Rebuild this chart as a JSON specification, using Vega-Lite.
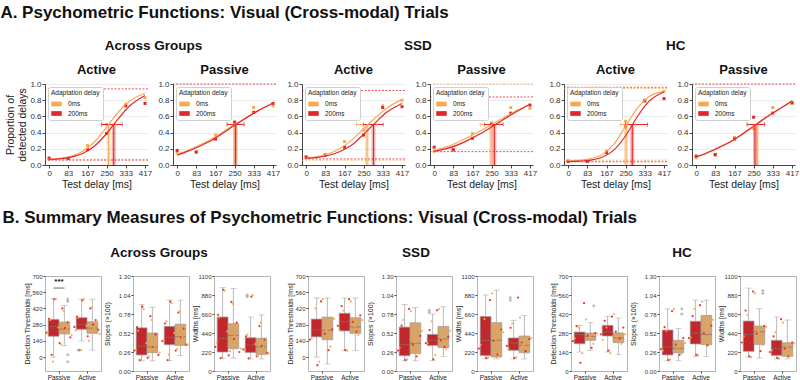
{
"$schema":"https://vega.github.io/schema/vega-lite/v6.json",
"background":"white",
"padding":{"left":0,"top":3,"right":0,"bottom":0},
"config":{
 "font":"Liberation Sans",
 "view":{"stroke":null},
 "title":{"font":"Liberation Sans","fontWeight":"bold","color":"#111","anchor":"middle","frame":"bounds"},
 "axis":{"labelFont":"Liberation Sans","titleFont":"Liberation Sans","titleFontWeight":"normal","labelColor":"#333","titleColor":"#1a1a1a","domainColor":"#444","tickColor":"#444","tickSize":3,"labelPadding":1,"titlePadding":2,"grid":false,"labelOverlap":false,"labelFlush":false},
 "legend":{"orient":"top-left","offset":3,"fillColor":"white","strokeColor":"#cfcfcf","cornerRadius":2,"padding":3,"titleFontSize":6.5,"titleFontWeight":"normal","titleColor":"#222","labelFontSize":6.5,"labelColor":"#222","symbolType":"M-1,-0.45H1V0.45H-1Z","symbolSize":110,"symbolStrokeWidth":0,"rowPadding":0.5,"titlePadding":2,"labelOffset":6}
},
"datasets":{
"pa":[
{"p":"AGA","d":"0ms","x":0,"y":0.074},{"p":"AGA","d":"0ms","x":83,"y":0.08},{"p":"AGA","d":"0ms","x":167,"y":0.24},{"p":"AGA","d":"0ms","x":250,"y":0.5},{"p":"AGA","d":"0ms","x":333,"y":0.75},{"p":"AGA","d":"0ms","x":417,"y":0.83},
{"p":"AGA","d":"200ms","x":0,"y":0.086},{"p":"AGA","d":"200ms","x":83,"y":0.08},{"p":"AGA","d":"200ms","x":167,"y":0.19},{"p":"AGA","d":"200ms","x":250,"y":0.39},{"p":"AGA","d":"200ms","x":333,"y":0.73},{"p":"AGA","d":"200ms","x":417,"y":0.76},
{"p":"AGP","d":"0ms","x":0,"y":0.15},{"p":"AGP","d":"0ms","x":83,"y":0.16},{"p":"AGP","d":"0ms","x":167,"y":0.37},{"p":"AGP","d":"0ms","x":250,"y":0.5},{"p":"AGP","d":"0ms","x":333,"y":0.71},{"p":"AGP","d":"0ms","x":417,"y":0.73},
{"p":"AGP","d":"200ms","x":0,"y":0.18},{"p":"AGP","d":"200ms","x":83,"y":0.16},{"p":"AGP","d":"200ms","x":167,"y":0.32},{"p":"AGP","d":"200ms","x":250,"y":0.53},{"p":"AGP","d":"200ms","x":333,"y":0.65},{"p":"AGP","d":"200ms","x":417,"y":0.76},
{"p":"SSA","d":"0ms","x":0,"y":0.09},{"p":"SSA","d":"0ms","x":83,"y":0.13},{"p":"SSA","d":"0ms","x":167,"y":0.29},{"p":"SSA","d":"0ms","x":250,"y":0.43},{"p":"SSA","d":"0ms","x":333,"y":0.73},{"p":"SSA","d":"0ms","x":417,"y":0.8},
{"p":"SSA","d":"200ms","x":0,"y":0.1},{"p":"SSA","d":"200ms","x":83,"y":0.12},{"p":"SSA","d":"200ms","x":167,"y":0.22},{"p":"SSA","d":"200ms","x":250,"y":0.37},{"p":"SSA","d":"200ms","x":333,"y":0.71},{"p":"SSA","d":"200ms","x":417,"y":0.72},
{"p":"SSP","d":"0ms","x":0,"y":0.17},{"p":"SSP","d":"0ms","x":83,"y":0.18},{"p":"SSP","d":"0ms","x":167,"y":0.39},{"p":"SSP","d":"0ms","x":250,"y":0.52},{"p":"SSP","d":"0ms","x":333,"y":0.71},{"p":"SSP","d":"0ms","x":417,"y":0.7},
{"p":"SSP","d":"200ms","x":0,"y":0.22},{"p":"SSP","d":"200ms","x":83,"y":0.19},{"p":"SSP","d":"200ms","x":167,"y":0.33},{"p":"SSP","d":"200ms","x":250,"y":0.5},{"p":"SSP","d":"200ms","x":333,"y":0.64},{"p":"SSP","d":"200ms","x":417,"y":0.74},
{"p":"HCA","d":"0ms","x":0,"y":0.05},{"p":"HCA","d":"0ms","x":83,"y":0.05},{"p":"HCA","d":"0ms","x":167,"y":0.17},{"p":"HCA","d":"0ms","x":250,"y":0.54},{"p":"HCA","d":"0ms","x":333,"y":0.8},{"p":"HCA","d":"0ms","x":417,"y":0.91},
{"p":"HCA","d":"200ms","x":0,"y":0.046},{"p":"HCA","d":"200ms","x":83,"y":0.046},{"p":"HCA","d":"200ms","x":167,"y":0.155},{"p":"HCA","d":"200ms","x":250,"y":0.47},{"p":"HCA","d":"200ms","x":333,"y":0.79},{"p":"HCA","d":"200ms","x":417,"y":0.82},
{"p":"HCP","d":"0ms","x":0,"y":0.09},{"p":"HCP","d":"0ms","x":83,"y":0.12},{"p":"HCP","d":"0ms","x":167,"y":0.34},{"p":"HCP","d":"0ms","x":250,"y":0.45},{"p":"HCP","d":"0ms","x":333,"y":0.71},{"p":"HCP","d":"0ms","x":417,"y":0.76},
{"p":"HCP","d":"200ms","x":0,"y":0.11},{"p":"HCP","d":"200ms","x":83,"y":0.13},{"p":"HCP","d":"200ms","x":167,"y":0.32},{"p":"HCP","d":"200ms","x":250,"y":0.59},{"p":"HCP","d":"200ms","x":333,"y":0.64},{"p":"HCP","d":"200ms","x":417,"y":0.77}
],
"ca":[
{"p":"AGA","d":"0ms","x":0,"y":0.07},{"p":"AGA","d":"0ms","x":50,"y":0.083},{"p":"AGA","d":"0ms","x":100,"y":0.113},{"p":"AGA","d":"0ms","x":150,"y":0.176},{"p":"AGA","d":"0ms","x":200,"y":0.293},{"p":"AGA","d":"0ms","x":250,"y":0.466},{"p":"AGA","d":"0ms","x":300,"y":0.65},{"p":"AGA","d":"0ms","x":350,"y":0.789},{"p":"AGA","d":"0ms","x":417,"y":0.886},
{"p":"AGA","d":"200ms","x":0,"y":0.068},{"p":"AGA","d":"200ms","x":50,"y":0.078},{"p":"AGA","d":"200ms","x":100,"y":0.101},{"p":"AGA","d":"200ms","x":150,"y":0.149},{"p":"AGA","d":"200ms","x":200,"y":0.241},{"p":"AGA","d":"200ms","x":250,"y":0.389},{"p":"AGA","d":"200ms","x":300,"y":0.569},{"p":"AGA","d":"200ms","x":350,"y":0.728},{"p":"AGA","d":"200ms","x":417,"y":0.857},
{"p":"AGP","d":"0ms","x":0,"y":0.13},{"p":"AGP","d":"0ms","x":50,"y":0.185},{"p":"AGP","d":"0ms","x":100,"y":0.25},{"p":"AGP","d":"0ms","x":150,"y":0.32},{"p":"AGP","d":"0ms","x":200,"y":0.41},{"p":"AGP","d":"0ms","x":250,"y":0.5},{"p":"AGP","d":"0ms","x":300,"y":0.585},{"p":"AGP","d":"0ms","x":350,"y":0.67},{"p":"AGP","d":"0ms","x":417,"y":0.76},
{"p":"AGP","d":"200ms","x":0,"y":0.12},{"p":"AGP","d":"200ms","x":50,"y":0.175},{"p":"AGP","d":"200ms","x":100,"y":0.235},{"p":"AGP","d":"200ms","x":150,"y":0.305},{"p":"AGP","d":"200ms","x":200,"y":0.395},{"p":"AGP","d":"200ms","x":250,"y":0.49},{"p":"AGP","d":"200ms","x":300,"y":0.58},{"p":"AGP","d":"200ms","x":350,"y":0.665},{"p":"AGP","d":"200ms","x":417,"y":0.765},
{"p":"SSA","d":"0ms","x":0,"y":0.09},{"p":"SSA","d":"0ms","x":50,"y":0.105},{"p":"SSA","d":"0ms","x":100,"y":0.14},{"p":"SSA","d":"0ms","x":150,"y":0.21},{"p":"SSA","d":"0ms","x":200,"y":0.31},{"p":"SSA","d":"0ms","x":250,"y":0.45},{"p":"SSA","d":"0ms","x":300,"y":0.58},{"p":"SSA","d":"0ms","x":350,"y":0.7},{"p":"SSA","d":"0ms","x":417,"y":0.81},
{"p":"SSA","d":"200ms","x":0,"y":0.085},{"p":"SSA","d":"200ms","x":50,"y":0.095},{"p":"SSA","d":"200ms","x":100,"y":0.12},{"p":"SSA","d":"200ms","x":150,"y":0.17},{"p":"SSA","d":"200ms","x":200,"y":0.25},{"p":"SSA","d":"200ms","x":250,"y":0.38},{"p":"SSA","d":"200ms","x":300,"y":0.52},{"p":"SSA","d":"200ms","x":350,"y":0.65},{"p":"SSA","d":"200ms","x":417,"y":0.76},
{"p":"SSP","d":"0ms","x":0,"y":0.18},{"p":"SSP","d":"0ms","x":50,"y":0.22},{"p":"SSP","d":"0ms","x":100,"y":0.275},{"p":"SSP","d":"0ms","x":150,"y":0.345},{"p":"SSP","d":"0ms","x":200,"y":0.42},{"p":"SSP","d":"0ms","x":250,"y":0.5},{"p":"SSP","d":"0ms","x":300,"y":0.58},{"p":"SSP","d":"0ms","x":350,"y":0.66},{"p":"SSP","d":"0ms","x":417,"y":0.75},
{"p":"SSP","d":"200ms","x":0,"y":0.17},{"p":"SSP","d":"200ms","x":50,"y":0.2},{"p":"SSP","d":"200ms","x":100,"y":0.245},{"p":"SSP","d":"200ms","x":150,"y":0.31},{"p":"SSP","d":"200ms","x":200,"y":0.385},{"p":"SSP","d":"200ms","x":250,"y":0.47},{"p":"SSP","d":"200ms","x":300,"y":0.56},{"p":"SSP","d":"200ms","x":350,"y":0.645},{"p":"SSP","d":"200ms","x":417,"y":0.75},
{"p":"HCA","d":"0ms","x":0,"y":0.053},{"p":"HCA","d":"0ms","x":50,"y":0.06},{"p":"HCA","d":"0ms","x":100,"y":0.079},{"p":"HCA","d":"0ms","x":150,"y":0.133},{"p":"HCA","d":"0ms","x":200,"y":0.26},{"p":"HCA","d":"0ms","x":250,"y":0.48},{"p":"HCA","d":"0ms","x":300,"y":0.7},{"p":"HCA","d":"0ms","x":350,"y":0.84},{"p":"HCA","d":"0ms","x":417,"y":0.908},
{"p":"HCA","d":"200ms","x":0,"y":0.043},{"p":"HCA","d":"200ms","x":50,"y":0.048},{"p":"HCA","d":"200ms","x":100,"y":0.061},{"p":"HCA","d":"200ms","x":150,"y":0.098},{"p":"HCA","d":"200ms","x":200,"y":0.187},{"p":"HCA","d":"200ms","x":250,"y":0.361},{"p":"HCA","d":"200ms","x":300,"y":0.593},{"p":"HCA","d":"200ms","x":350,"y":0.782},{"p":"HCA","d":"200ms","x":417,"y":0.901},
{"p":"HCP","d":"0ms","x":0,"y":0.095},{"p":"HCP","d":"0ms","x":50,"y":0.15},{"p":"HCP","d":"0ms","x":100,"y":0.215},{"p":"HCP","d":"0ms","x":150,"y":0.285},{"p":"HCP","d":"0ms","x":200,"y":0.375},{"p":"HCP","d":"0ms","x":250,"y":0.475},{"p":"HCP","d":"0ms","x":300,"y":0.575},{"p":"HCP","d":"0ms","x":350,"y":0.67},{"p":"HCP","d":"0ms","x":417,"y":0.785},
{"p":"HCP","d":"200ms","x":0,"y":0.1},{"p":"HCP","d":"200ms","x":50,"y":0.155},{"p":"HCP","d":"200ms","x":100,"y":0.22},{"p":"HCP","d":"200ms","x":150,"y":0.29},{"p":"HCP","d":"200ms","x":200,"y":0.38},{"p":"HCP","d":"200ms","x":250,"y":0.48},{"p":"HCP","d":"200ms","x":300,"y":0.58},{"p":"HCP","d":"200ms","x":350,"y":0.67},{"p":"HCP","d":"200ms","x":417,"y":0.79}
],
"lp":[
{"p":"AGA","d":"0ms","y":0.07},{"p":"AGA","d":"200ms","y":0.06},{"p":"AGA","d":"200ms","y":0.94},
{"p":"AGP","d":"200ms","y":1.0},
{"p":"SSA","d":"200ms","y":0.92},{"p":"SSA","d":"200ms","y":0.075},{"p":"SSA","d":"0ms","y":0.06},
{"p":"SSP","d":"0ms","y":1.0},{"p":"SSP","d":"200ms","y":0.84},{"p":"SSP","d":"200ms","y":0.165},
{"p":"HCA","d":"200ms","y":0.96},{"p":"HCA","d":"0ms","y":0.945},{"p":"HCA","d":"200ms","y":0.04},{"p":"HCA","d":"0ms","y":0.06},
{"p":"HCP","d":"200ms","y":1.0}
],
"th":[
{"p":"AGA","d":"0ms","t":259,"lo":228,"hi":290},{"p":"AGA","d":"200ms","t":281,"lo":229,"hi":318},
{"p":"AGP","d":"0ms","t":252,"lo":216,"hi":288},{"p":"AGP","d":"200ms","t":254,"lo":218,"hi":292},
{"p":"SSA","d":"0ms","t":265,"lo":219,"hi":308},{"p":"SSA","d":"200ms","t":293,"lo":249,"hi":335},
{"p":"SSP","d":"0ms","t":248,"lo":200,"hi":285},{"p":"SSP","d":"200ms","t":262,"lo":220,"hi":300},
{"p":"HCA","d":"0ms","t":252,"lo":227,"hi":294},{"p":"HCA","d":"200ms","t":279,"lo":249,"hi":345},
{"p":"HCP","d":"0ms","t":266,"lo":225,"hi":300},{"p":"HCP","d":"200ms","t":256,"lo":221,"hi":297}
],
"bx":[
{"k":"AGT","c":"Passive","d":"200ms","lo":0,"q1":180,"md":265,"q3":325,"hi":505},{"k":"AGT","c":"Passive","d":"0ms","lo":100,"q1":200,"md":242,"q3":302,"hi":445},{"k":"AGT","c":"Active","d":"200ms","lo":140,"q1":240,"md":284,"q3":340,"hi":500},{"k":"AGT","c":"Active","d":"0ms","lo":60,"q1":205,"md":250,"q3":305,"hi":500},
{"k":"AGS","c":"Passive","d":"200ms","lo":0.14,"q1":0.22,"md":0.34,"q3":0.59,"hi":0.91},{"k":"AGS","c":"Passive","d":"0ms","lo":0.14,"q1":0.25,"md":0.33,"q3":0.52,"hi":0.87},{"k":"AGS","c":"Active","d":"200ms","lo":0.14,"q1":0.36,"md":0.46,"q3":0.61,"hi":0.97},{"k":"AGS","c":"Active","d":"0ms","lo":0.21,"q1":0.35,"md":0.47,"q3":0.64,"hi":0.97},
{"k":"AGW","c":"Passive","d":"200ms","lo":143,"q1":220,"md":375,"q3":625,"hi":965},{"k":"AGW","c":"Passive","d":"0ms","lo":150,"q1":259,"md":413,"q3":548,"hi":955},{"k":"AGW","c":"Active","d":"200ms","lo":140,"q1":215,"md":300,"q3":385,"hi":625},{"k":"AGW","c":"Active","d":"0ms","lo":140,"q1":190,"md":280,"q3":380,"hi":650},
{"k":"SST","c":"Passive","d":"200ms","lo":0,"q1":175,"md":237,"q3":328,"hi":510},{"k":"SST","c":"Passive","d":"0ms","lo":-60,"q1":150,"md":232,"q3":345,"hi":510},{"k":"SST","c":"Active","d":"200ms","lo":55,"q1":226,"md":305,"q3":378,"hi":510},{"k":"SST","c":"Active","d":"0ms","lo":55,"q1":205,"md":260,"q3":340,"hi":510},
{"k":"SSS","c":"Passive","d":"200ms","lo":0.14,"q1":0.21,"md":0.36,"q3":0.6,"hi":0.91},{"k":"SSS","c":"Passive","d":"0ms","lo":0.14,"q1":0.24,"md":0.38,"q3":0.66,"hi":0.87},{"k":"SSS","c":"Active","d":"200ms","lo":0.14,"q1":0.35,"md":0.42,"q3":0.5,"hi":0.78},{"k":"SSS","c":"Active","d":"0ms","lo":0.2,"q1":0.32,"md":0.44,"q3":0.61,"hi":0.88},
{"k":"SSW","c":"Passive","d":"200ms","lo":140,"q1":180,"md":355,"q3":630,"hi":880},{"k":"SSW","c":"Passive","d":"0ms","lo":140,"q1":162,"md":355,"q3":560,"hi":935},{"k":"SSW","c":"Active","d":"200ms","lo":140,"q1":240,"md":324,"q3":382,"hi":587},{"k":"SSW","c":"Active","d":"0ms","lo":140,"q1":212,"md":297,"q3":405,"hi":640},
{"k":"HCT","c":"Passive","d":"200ms","lo":140,"q1":201,"md":268,"q3":287,"hi":336},{"k":"HCT","c":"Passive","d":"0ms","lo":152,"q1":226,"md":255,"q3":280,"hi":356},{"k":"HCT","c":"Active","d":"200ms","lo":140,"q1":258,"md":287,"q3":336,"hi":403},{"k":"HCT","c":"Active","d":"0ms","lo":120,"q1":209,"md":244,"q3":280,"hi":390},
{"k":"HCS","c":"Passive","d":"200ms","lo":0.14,"q1":0.22,"md":0.33,"q3":0.56,"hi":0.85},{"k":"HCS","c":"Passive","d":"0ms","lo":0.14,"q1":0.25,"md":0.31,"q3":0.42,"hi":0.58},{"k":"HCS","c":"Active","d":"200ms","lo":0.2,"q1":0.37,"md":0.52,"q3":0.68,"hi":0.97},{"k":"HCS","c":"Active","d":"0ms","lo":0.2,"q1":0.36,"md":0.5,"q3":0.76,"hi":0.97},
{"k":"HCW","c":"Passive","d":"200ms","lo":160,"q1":228,"md":424,"q3":578,"hi":960},{"k":"HCW","c":"Passive","d":"0ms","lo":150,"q1":308,"md":455,"q3":520,"hi":721},{"k":"HCW","c":"Active","d":"200ms","lo":140,"q1":181,"md":258,"q3":355,"hi":625},{"k":"HCW","c":"Active","d":"0ms","lo":140,"q1":170,"md":277,"q3":327,"hi":590}
],
"bp":[
{"k":"AGT","c":"Passive","d":"200ms","s":1,"v":210},{"k":"AGT","c":"Passive","d":"200ms","s":3,"v":330},{"k":"AGT","c":"Passive","d":"200ms","s":5,"v":20},{"k":"AGT","c":"Passive","d":"200ms","s":7,"v":500},{"k":"AGT","c":"Passive","d":"200ms","s":9,"v":270},{"k":"AGT","c":"Passive","d":"200ms","s":11,"v":120},{"k":"AGT","c":"Passive","d":"200ms","s":13,"v":420},{"k":"AGT","c":"Passive","d":"200ms","s":15,"v":250},{"k":"AGT","c":"Passive","d":"200ms","s":17,"v":300},{"k":"AGT","c":"Passive","d":"200ms","s":19,"v":170},
{"k":"AGT","c":"Passive","d":"0ms","s":2,"v":215},{"k":"AGT","c":"Passive","d":"0ms","s":4,"v":320},{"k":"AGT","c":"Passive","d":"0ms","s":6,"v":-40},{"k":"AGT","c":"Passive","d":"0ms","s":8,"v":500},{"k":"AGT","c":"Passive","d":"0ms","s":10,"v":255},{"k":"AGT","c":"Passive","d":"0ms","s":12,"v":110},{"k":"AGT","c":"Passive","d":"0ms","s":14,"v":400},{"k":"AGT","c":"Passive","d":"0ms","s":16,"v":240},{"k":"AGT","c":"Passive","d":"0ms","s":18,"v":290},{"k":"AGT","c":"Passive","d":"0ms","s":20,"v":190},
{"k":"AGT","c":"Active","d":"200ms","s":1,"v":260},{"k":"AGT","c":"Active","d":"200ms","s":3,"v":350},{"k":"AGT","c":"Active","d":"200ms","s":5,"v":60},{"k":"AGT","c":"Active","d":"200ms","s":7,"v":490},{"k":"AGT","c":"Active","d":"200ms","s":9,"v":300},{"k":"AGT","c":"Active","d":"200ms","s":11,"v":180},{"k":"AGT","c":"Active","d":"200ms","s":13,"v":420},{"k":"AGT","c":"Active","d":"200ms","s":15,"v":280},{"k":"AGT","c":"Active","d":"200ms","s":17,"v":320},{"k":"AGT","c":"Active","d":"200ms","s":19,"v":235},
{"k":"AGT","c":"Active","d":"0ms","s":2,"v":230},{"k":"AGT","c":"Active","d":"0ms","s":4,"v":340},{"k":"AGT","c":"Active","d":"0ms","s":6,"v":60},{"k":"AGT","c":"Active","d":"0ms","s":8,"v":500},{"k":"AGT","c":"Active","d":"0ms","s":10,"v":270},{"k":"AGT","c":"Active","d":"0ms","s":12,"v":140},{"k":"AGT","c":"Active","d":"0ms","s":14,"v":430},{"k":"AGT","c":"Active","d":"0ms","s":16,"v":250},{"k":"AGT","c":"Active","d":"0ms","s":18,"v":300},{"k":"AGT","c":"Active","d":"0ms","s":20,"v":200},
{"k":"AGS","c":"Passive","d":"200ms","s":1,"v":0.28},{"k":"AGS","c":"Passive","d":"200ms","s":3,"v":0.6},{"k":"AGS","c":"Passive","d":"200ms","s":5,"v":0.15},{"k":"AGS","c":"Passive","d":"200ms","s":7,"v":0.88},{"k":"AGS","c":"Passive","d":"200ms","s":9,"v":0.4},{"k":"AGS","c":"Passive","d":"200ms","s":11,"v":0.18},{"k":"AGS","c":"Passive","d":"200ms","s":13,"v":0.75},{"k":"AGS","c":"Passive","d":"200ms","s":15,"v":0.33},{"k":"AGS","c":"Passive","d":"200ms","s":17,"v":0.5},{"k":"AGS","c":"Passive","d":"200ms","s":19,"v":0.22},
{"k":"AGS","c":"Passive","d":"0ms","s":2,"v":0.29},{"k":"AGS","c":"Passive","d":"0ms","s":4,"v":0.55},{"k":"AGS","c":"Passive","d":"0ms","s":6,"v":0.16},{"k":"AGS","c":"Passive","d":"0ms","s":8,"v":0.85},{"k":"AGS","c":"Passive","d":"0ms","s":10,"v":0.38},{"k":"AGS","c":"Passive","d":"0ms","s":12,"v":0.2},{"k":"AGS","c":"Passive","d":"0ms","s":14,"v":0.7},{"k":"AGS","c":"Passive","d":"0ms","s":16,"v":0.33},{"k":"AGS","c":"Passive","d":"0ms","s":18,"v":0.45},{"k":"AGS","c":"Passive","d":"0ms","s":20,"v":0.25},
{"k":"AGS","c":"Active","d":"200ms","s":1,"v":0.41},{"k":"AGS","c":"Active","d":"200ms","s":3,"v":0.65},{"k":"AGS","c":"Active","d":"200ms","s":5,"v":0.15},{"k":"AGS","c":"Active","d":"200ms","s":7,"v":0.95},{"k":"AGS","c":"Active","d":"200ms","s":9,"v":0.5},{"k":"AGS","c":"Active","d":"200ms","s":11,"v":0.28},{"k":"AGS","c":"Active","d":"200ms","s":13,"v":0.8},{"k":"AGS","c":"Active","d":"200ms","s":15,"v":0.46},{"k":"AGS","c":"Active","d":"200ms","s":17,"v":0.58},{"k":"AGS","c":"Active","d":"200ms","s":19,"v":0.36},
{"k":"AGS","c":"Active","d":"0ms","s":2,"v":0.42},{"k":"AGS","c":"Active","d":"0ms","s":4,"v":0.68},{"k":"AGS","c":"Active","d":"0ms","s":6,"v":0.22},{"k":"AGS","c":"Active","d":"0ms","s":8,"v":0.93},{"k":"AGS","c":"Active","d":"0ms","s":10,"v":0.52},{"k":"AGS","c":"Active","d":"0ms","s":12,"v":0.3},{"k":"AGS","c":"Active","d":"0ms","s":14,"v":0.82},{"k":"AGS","c":"Active","d":"0ms","s":16,"v":0.47},{"k":"AGS","c":"Active","d":"0ms","s":18,"v":0.6},{"k":"AGS","c":"Active","d":"0ms","s":20,"v":0.36},
{"k":"AGW","c":"Passive","d":"200ms","s":1,"v":280},{"k":"AGW","c":"Passive","d":"200ms","s":3,"v":650},{"k":"AGW","c":"Passive","d":"200ms","s":5,"v":150},{"k":"AGW","c":"Passive","d":"200ms","s":7,"v":940},{"k":"AGW","c":"Passive","d":"200ms","s":9,"v":450},{"k":"AGW","c":"Passive","d":"200ms","s":11,"v":180},{"k":"AGW","c":"Passive","d":"200ms","s":13,"v":800},{"k":"AGW","c":"Passive","d":"200ms","s":15,"v":370},{"k":"AGW","c":"Passive","d":"200ms","s":17,"v":560},{"k":"AGW","c":"Passive","d":"200ms","s":19,"v":220},
{"k":"AGW","c":"Passive","d":"0ms","s":2,"v":330},{"k":"AGW","c":"Passive","d":"0ms","s":4,"v":620},{"k":"AGW","c":"Passive","d":"0ms","s":6,"v":160},{"k":"AGW","c":"Passive","d":"0ms","s":8,"v":930},{"k":"AGW","c":"Passive","d":"0ms","s":10,"v":460},{"k":"AGW","c":"Passive","d":"0ms","s":12,"v":230},{"k":"AGW","c":"Passive","d":"0ms","s":14,"v":780},{"k":"AGW","c":"Passive","d":"0ms","s":16,"v":410},{"k":"AGW","c":"Passive","d":"0ms","s":18,"v":540},{"k":"AGW","c":"Passive","d":"0ms","s":20,"v":260},
{"k":"AGW","c":"Active","d":"200ms","s":1,"v":250},{"k":"AGW","c":"Active","d":"200ms","s":3,"v":400},{"k":"AGW","c":"Active","d":"200ms","s":5,"v":145},{"k":"AGW","c":"Active","d":"200ms","s":7,"v":860},{"k":"AGW","c":"Active","d":"200ms","s":9,"v":320},{"k":"AGW","c":"Active","d":"200ms","s":11,"v":170},{"k":"AGW","c":"Active","d":"200ms","s":13,"v":520},{"k":"AGW","c":"Active","d":"200ms","s":15,"v":290},{"k":"AGW","c":"Active","d":"200ms","s":17,"v":360},{"k":"AGW","c":"Active","d":"200ms","s":19,"v":210},
{"k":"AGW","c":"Active","d":"0ms","s":2,"v":240},{"k":"AGW","c":"Active","d":"0ms","s":4,"v":420},{"k":"AGW","c":"Active","d":"0ms","s":6,"v":150},{"k":"AGW","c":"Active","d":"0ms","s":8,"v":880},{"k":"AGW","c":"Active","d":"0ms","s":10,"v":310},{"k":"AGW","c":"Active","d":"0ms","s":12,"v":170},{"k":"AGW","c":"Active","d":"0ms","s":14,"v":560},{"k":"AGW","c":"Active","d":"0ms","s":16,"v":280},{"k":"AGW","c":"Active","d":"0ms","s":18,"v":360},{"k":"AGW","c":"Active","d":"0ms","s":20,"v":200},
{"k":"SST","c":"Passive","d":"200ms","s":1,"v":150},{"k":"SST","c":"Passive","d":"200ms","s":3,"v":300},{"k":"SST","c":"Passive","d":"200ms","s":5,"v":-70},{"k":"SST","c":"Passive","d":"200ms","s":7,"v":480},{"k":"SST","c":"Passive","d":"200ms","s":9,"v":200},{"k":"SST","c":"Passive","d":"200ms","s":11,"v":60},{"k":"SST","c":"Passive","d":"200ms","s":13,"v":240},
{"k":"SST","c":"Passive","d":"0ms","s":2,"v":160},{"k":"SST","c":"Passive","d":"0ms","s":4,"v":420},{"k":"SST","c":"Passive","d":"0ms","s":6,"v":-40},{"k":"SST","c":"Passive","d":"0ms","s":8,"v":500},{"k":"SST","c":"Passive","d":"0ms","s":10,"v":230},{"k":"SST","c":"Passive","d":"0ms","s":12,"v":90},{"k":"SST","c":"Passive","d":"0ms","s":14,"v":330},
{"k":"SST","c":"Active","d":"200ms","s":1,"v":270},{"k":"SST","c":"Active","d":"200ms","s":3,"v":440},{"k":"SST","c":"Active","d":"200ms","s":5,"v":60},{"k":"SST","c":"Active","d":"200ms","s":7,"v":500},{"k":"SST","c":"Active","d":"200ms","s":9,"v":305},{"k":"SST","c":"Active","d":"200ms","s":11,"v":220},{"k":"SST","c":"Active","d":"200ms","s":13,"v":360},
{"k":"SST","c":"Active","d":"0ms","s":2,"v":230},{"k":"SST","c":"Active","d":"0ms","s":4,"v":400},{"k":"SST","c":"Active","d":"0ms","s":6,"v":55},{"k":"SST","c":"Active","d":"0ms","s":8,"v":480},{"k":"SST","c":"Active","d":"0ms","s":10,"v":265},{"k":"SST","c":"Active","d":"0ms","s":12,"v":190},{"k":"SST","c":"Active","d":"0ms","s":14,"v":320},
{"k":"SSS","c":"Passive","d":"200ms","s":1,"v":0.28},{"k":"SSS","c":"Passive","d":"200ms","s":3,"v":0.62},{"k":"SSS","c":"Passive","d":"200ms","s":5,"v":0.15},{"k":"SSS","c":"Passive","d":"200ms","s":7,"v":0.85},{"k":"SSS","c":"Passive","d":"200ms","s":9,"v":0.36},{"k":"SSS","c":"Passive","d":"200ms","s":11,"v":0.2},{"k":"SSS","c":"Passive","d":"200ms","s":13,"v":0.48},
{"k":"SSS","c":"Passive","d":"0ms","s":2,"v":0.32},{"k":"SSS","c":"Passive","d":"0ms","s":4,"v":0.7},{"k":"SSS","c":"Passive","d":"0ms","s":6,"v":0.16},{"k":"SSS","c":"Passive","d":"0ms","s":8,"v":0.82},{"k":"SSS","c":"Passive","d":"0ms","s":10,"v":0.4},{"k":"SSS","c":"Passive","d":"0ms","s":12,"v":0.24},{"k":"SSS","c":"Passive","d":"0ms","s":14,"v":0.55},
{"k":"SSS","c":"Active","d":"200ms","s":1,"v":0.38},{"k":"SSS","c":"Active","d":"200ms","s":3,"v":0.56},{"k":"SSS","c":"Active","d":"200ms","s":5,"v":0.16},{"k":"SSS","c":"Active","d":"200ms","s":7,"v":0.83},{"k":"SSS","c":"Active","d":"200ms","s":9,"v":0.42},{"k":"SSS","c":"Active","d":"200ms","s":11,"v":0.33},{"k":"SSS","c":"Active","d":"200ms","s":13,"v":0.47},
{"k":"SSS","c":"Active","d":"0ms","s":2,"v":0.38},{"k":"SSS","c":"Active","d":"0ms","s":4,"v":0.68},{"k":"SSS","c":"Active","d":"0ms","s":6,"v":0.22},{"k":"SSS","c":"Active","d":"0ms","s":8,"v":0.85},{"k":"SSS","c":"Active","d":"0ms","s":10,"v":0.45},{"k":"SSS","c":"Active","d":"0ms","s":12,"v":0.3},{"k":"SSS","c":"Active","d":"0ms","s":14,"v":0.55},
{"k":"SSW","c":"Passive","d":"200ms","s":1,"v":260},{"k":"SSW","c":"Passive","d":"200ms","s":3,"v":620},{"k":"SSW","c":"Passive","d":"200ms","s":5,"v":150},{"k":"SSW","c":"Passive","d":"200ms","s":7,"v":820},{"k":"SSW","c":"Passive","d":"200ms","s":9,"v":350},{"k":"SSW","c":"Passive","d":"200ms","s":11,"v":190},{"k":"SSW","c":"Passive","d":"200ms","s":13,"v":480},
{"k":"SSW","c":"Passive","d":"0ms","s":2,"v":300},{"k":"SSW","c":"Passive","d":"0ms","s":4,"v":600},{"k":"SSW","c":"Passive","d":"0ms","s":6,"v":160},{"k":"SSW","c":"Passive","d":"0ms","s":8,"v":900},{"k":"SSW","c":"Passive","d":"0ms","s":10,"v":360},{"k":"SSW","c":"Passive","d":"0ms","s":12,"v":200},{"k":"SSW","c":"Passive","d":"0ms","s":14,"v":450},
{"k":"SSW","c":"Active","d":"200ms","s":1,"v":290},{"k":"SSW","c":"Active","d":"200ms","s":3,"v":500},{"k":"SSW","c":"Active","d":"200ms","s":5,"v":150},{"k":"SSW","c":"Active","d":"200ms","s":7,"v":850},{"k":"SSW","c":"Active","d":"200ms","s":9,"v":330},{"k":"SSW","c":"Active","d":"200ms","s":11,"v":230},{"k":"SSW","c":"Active","d":"200ms","s":13,"v":370},
{"k":"SSW","c":"Active","d":"0ms","s":2,"v":260},{"k":"SSW","c":"Active","d":"0ms","s":4,"v":550},{"k":"SSW","c":"Active","d":"0ms","s":6,"v":160},{"k":"SSW","c":"Active","d":"0ms","s":8,"v":620},{"k":"SSW","c":"Active","d":"0ms","s":10,"v":300},{"k":"SSW","c":"Active","d":"0ms","s":12,"v":210},{"k":"SSW","c":"Active","d":"0ms","s":14,"v":380},
{"k":"HCT","c":"Passive","d":"200ms","s":1,"v":220},{"k":"HCT","c":"Passive","d":"200ms","s":3,"v":330},{"k":"HCT","c":"Passive","d":"200ms","s":5,"v":60},{"k":"HCT","c":"Passive","d":"200ms","s":7,"v":500},{"k":"HCT","c":"Passive","d":"200ms","s":9,"v":260},{"k":"HCT","c":"Passive","d":"200ms","s":11,"v":170},{"k":"HCT","c":"Passive","d":"200ms","s":13,"v":280},
{"k":"HCT","c":"Passive","d":"0ms","s":2,"v":240},{"k":"HCT","c":"Passive","d":"0ms","s":4,"v":320},{"k":"HCT","c":"Passive","d":"0ms","s":6,"v":130},{"k":"HCT","c":"Passive","d":"0ms","s":8,"v":380},{"k":"HCT","c":"Passive","d":"0ms","s":10,"v":255},{"k":"HCT","c":"Passive","d":"0ms","s":12,"v":200},{"k":"HCT","c":"Passive","d":"0ms","s":14,"v":275},
{"k":"HCT","c":"Active","d":"200ms","s":1,"v":270},{"k":"HCT","c":"Active","d":"200ms","s":3,"v":370},{"k":"HCT","c":"Active","d":"200ms","s":5,"v":150},{"k":"HCT","c":"Active","d":"200ms","s":7,"v":400},{"k":"HCT","c":"Active","d":"200ms","s":9,"v":290},{"k":"HCT","c":"Active","d":"200ms","s":11,"v":240},{"k":"HCT","c":"Active","d":"200ms","s":13,"v":320},
{"k":"HCT","c":"Active","d":"0ms","s":2,"v":230},{"k":"HCT","c":"Active","d":"0ms","s":4,"v":320},{"k":"HCT","c":"Active","d":"0ms","s":6,"v":130},{"k":"HCT","c":"Active","d":"0ms","s":8,"v":420},{"k":"HCT","c":"Active","d":"0ms","s":10,"v":250},{"k":"HCT","c":"Active","d":"0ms","s":12,"v":200},{"k":"HCT","c":"Active","d":"0ms","s":14,"v":270},
{"k":"HCS","c":"Passive","d":"200ms","s":1,"v":0.3},{"k":"HCS","c":"Passive","d":"200ms","s":3,"v":0.6},{"k":"HCS","c":"Passive","d":"200ms","s":5,"v":0.15},{"k":"HCS","c":"Passive","d":"200ms","s":7,"v":0.82},{"k":"HCS","c":"Passive","d":"200ms","s":9,"v":0.36},{"k":"HCS","c":"Passive","d":"200ms","s":11,"v":0.22},{"k":"HCS","c":"Passive","d":"200ms","s":13,"v":0.45},
{"k":"HCS","c":"Passive","d":"0ms","s":2,"v":0.28},{"k":"HCS","c":"Passive","d":"0ms","s":4,"v":0.55},{"k":"HCS","c":"Passive","d":"0ms","s":6,"v":0.16},{"k":"HCS","c":"Passive","d":"0ms","s":8,"v":0.85},{"k":"HCS","c":"Passive","d":"0ms","s":10,"v":0.32},{"k":"HCS","c":"Passive","d":"0ms","s":12,"v":0.24},{"k":"HCS","c":"Passive","d":"0ms","s":14,"v":0.38},
{"k":"HCS","c":"Active","d":"200ms","s":1,"v":0.45},{"k":"HCS","c":"Active","d":"200ms","s":3,"v":0.75},{"k":"HCS","c":"Active","d":"200ms","s":5,"v":0.22},{"k":"HCS","c":"Active","d":"200ms","s":7,"v":0.9},{"k":"HCS","c":"Active","d":"200ms","s":9,"v":0.52},{"k":"HCS","c":"Active","d":"200ms","s":11,"v":0.35},{"k":"HCS","c":"Active","d":"200ms","s":13,"v":0.62},
{"k":"HCS","c":"Active","d":"0ms","s":2,"v":0.46},{"k":"HCS","c":"Active","d":"0ms","s":4,"v":0.85},{"k":"HCS","c":"Active","d":"0ms","s":6,"v":0.22},{"k":"HCS","c":"Active","d":"0ms","s":8,"v":0.95},{"k":"HCS","c":"Active","d":"0ms","s":10,"v":0.55},{"k":"HCS","c":"Active","d":"0ms","s":12,"v":0.38},{"k":"HCS","c":"Active","d":"0ms","s":14,"v":0.7},
{"k":"HCW","c":"Passive","d":"200ms","s":1,"v":330},{"k":"HCW","c":"Passive","d":"200ms","s":3,"v":700},{"k":"HCW","c":"Passive","d":"200ms","s":5,"v":170},{"k":"HCW","c":"Passive","d":"200ms","s":7,"v":920},{"k":"HCW","c":"Passive","d":"200ms","s":9,"v":430},{"k":"HCW","c":"Passive","d":"200ms","s":11,"v":230},{"k":"HCW","c":"Passive","d":"200ms","s":13,"v":520},
{"k":"HCW","c":"Passive","d":"0ms","s":2,"v":400},{"k":"HCW","c":"Passive","d":"0ms","s":4,"v":650},{"k":"HCW","c":"Passive","d":"0ms","s":6,"v":160},{"k":"HCW","c":"Passive","d":"0ms","s":8,"v":900},{"k":"HCW","c":"Passive","d":"0ms","s":10,"v":460},{"k":"HCW","c":"Passive","d":"0ms","s":12,"v":300},{"k":"HCW","c":"Passive","d":"0ms","s":14,"v":510},
{"k":"HCW","c":"Active","d":"200ms","s":1,"v":220},{"k":"HCW","c":"Active","d":"200ms","s":3,"v":400},{"k":"HCW","c":"Active","d":"200ms","s":5,"v":150},{"k":"HCW","c":"Active","d":"200ms","s":7,"v":600},{"k":"HCW","c":"Active","d":"200ms","s":9,"v":260},{"k":"HCW","c":"Active","d":"200ms","s":11,"v":170},{"k":"HCW","c":"Active","d":"200ms","s":13,"v":330},
{"k":"HCW","c":"Active","d":"0ms","s":2,"v":240},{"k":"HCW","c":"Active","d":"0ms","s":4,"v":450},{"k":"HCW","c":"Active","d":"0ms","s":6,"v":145},{"k":"HCW","c":"Active","d":"0ms","s":8,"v":560},{"k":"HCW","c":"Active","d":"0ms","s":10,"v":280},{"k":"HCW","c":"Active","d":"0ms","s":12,"v":180},{"k":"HCW","c":"Active","d":"0ms","s":14,"v":320}
],
"bo":[
{"k":"AGT","c":"Passive","d":"0ms","v":500},{"k":"AGT","c":"Passive","d":"0ms","v":480},{"k":"AGT","c":"Passive","d":"0ms","v":20},{"k":"AGT","c":"Passive","d":"0ms","v":-40},{"k":"AGT","c":"Active","d":"200ms","v":60},
{"k":"AGW","c":"Active","d":"200ms","v":860},{"k":"AGW","c":"Active","d":"200ms","v":880},
{"k":"SSS","c":"Active","d":"200ms","v":0.83},{"k":"SSS","c":"Active","d":"200ms","v":0.8},
{"k":"SSW","c":"Active","d":"200ms","v":850},{"k":"SSW","c":"Active","d":"200ms","v":820},
{"k":"HCT","c":"Passive","d":"0ms","v":480},{"k":"HCS","c":"Passive","d":"0ms","v":0.85},{"k":"HCS","c":"Passive","d":"0ms","v":0.78},{"k":"HCW","c":"Passive","d":"0ms","v":930},{"k":"HCW","c":"Passive","d":"0ms","v":900}
],
"sig":[{"c":"Passive","v":596}]
},
"spacing":19,
"resolve":{"scale":{"x":"independent","y":"independent","color":"independent","xOffset":"independent"},"legend":{"color":"independent"}},
"vconcat":[
{"title":{"text":"A. Psychometric Functions: Visual (Cross-modal) Trials","anchor":"start","fontSize":17,"dx":-5,"offset":17},
 "spacing":6,
 "resolve":{"scale":{"x":"independent","y":"independent","color":"independent","xOffset":"independent"},"legend":{"color":"independent"}},
 "hconcat":[
 {"title":{"text":"Across Groups","fontSize":13.5,"offset":12,"dx":11},"spacing":5,
  "resolve":{"scale":{"x":"independent","y":"independent","color":"independent"},"legend":{"color":"independent"}},
  "hconcat":[
  {"width":103,"height":81,"title":{"text":"Active","fontSize":13,"offset":3,"frame":"group"},
   "data":{"name":"th"},"transform":[{"filter":"datum.p=='AGA'"}],
   "layer":[
    {"data":{"name":"pa"},"transform":[{"filter":"datum.p=='AGA'"}],"mark":{"type":"square","size":9,"opacity":1},"encoding":{"x":{"field":"x","type":"quantitative","title":"Test delay [ms]","scale":{"domain":[-18,430],"nice":false,"zero":false},"axis":{"values":[0,83,167,250,333,417],"tickCount":10,"labelFontSize":8,"titleFontSize":10.5,"labelOverlap":false,"labelFlush":false}},"y":{"field":"y","type":"quantitative","title":["Proportion of","detected delays"],"scale":{"domain":[0,1],"nice":false},"axis":{"values":[0,0.2,0.4,0.6,0.8,1],"tickCount":10,"format":".1f","grid":true,"gridColor":"#e4e4e4","gridWidth":0.8,"labelFontSize":8,"titleFontSize":10.5,"labelOverlap":false,"labelFlush":false}},"color":{"field":"d","type":"nominal","scale":{"domain":["0ms","200ms"],"range":["#f5a955","#e3262b"]},"legend":{"title":"Adaptation delay"}}}},
    {"data":{"name":"lp"},"transform":[{"filter":"datum.p=='AGA'"}],"mark":{"type":"rule","strokeDash":[2,1.5],"strokeWidth":0.8},"encoding":{"y":{"field":"y","type":"quantitative","title":["Proportion of","detected delays"]},"color":{"field":"d","type":"nominal"}}},
    {"mark":{"type":"rule","strokeWidth":4,"opacity":0.35},"encoding":{"x":{"field":"t","type":"quantitative","title":"Test delay [ms]"},"y":{"datum":0,"type":"quantitative"},"y2":{"datum":0.5},"color":{"field":"d","type":"nominal"}}},
    {"mark":{"type":"rule","strokeWidth":1},"encoding":{"x":{"field":"t","type":"quantitative","title":"Test delay [ms]"},"y":{"datum":0,"type":"quantitative"},"y2":{"datum":0.5},"color":{"field":"d","type":"nominal"}}},
    {"mark":{"type":"rule","strokeWidth":1},"encoding":{"x":{"field":"lo","type":"quantitative","title":"Test delay [ms]"},"x2":{"field":"hi"},"y":{"datum":0.5,"type":"quantitative"},"color":{"field":"d","type":"nominal"}}},
    {"mark":{"type":"tick","orient":"vertical","size":4,"thickness":1},"encoding":{"x":{"field":"lo","type":"quantitative","title":"Test delay [ms]"},"y":{"datum":0.5,"type":"quantitative"},"color":{"field":"d","type":"nominal"}}},
    {"mark":{"type":"tick","orient":"vertical","size":4,"thickness":1},"encoding":{"x":{"field":"hi","type":"quantitative","title":"Test delay [ms]"},"y":{"datum":0.5,"type":"quantitative"},"color":{"field":"d","type":"nominal"}}},
    {"data":{"name":"ca"},"transform":[{"filter":"datum.p=='AGA'"}],"mark":{"type":"line","strokeWidth":1.2,"interpolate":"monotone"},"encoding":{"x":{"field":"x","type":"quantitative","title":"Test delay [ms]"},"y":{"field":"y","type":"quantitative","title":["Proportion of","detected delays"]},"color":{"field":"d","type":"nominal"}}}
   ]},
  {"width":103,"height":81,"title":{"text":"Passive","fontSize":13,"offset":3,"frame":"group"},
   "data":{"name":"th"},"transform":[{"filter":"datum.p=='AGP'"}],
   "layer":[
    {"data":{"name":"pa"},"transform":[{"filter":"datum.p=='AGP'"}],"mark":{"type":"square","size":9,"opacity":1},"encoding":{"x":{"field":"x","type":"quantitative","title":"Test delay [ms]","scale":{"domain":[-18,430],"nice":false,"zero":false},"axis":{"values":[0,83,167,250,333,417],"tickCount":10,"labelFontSize":8,"titleFontSize":10.5,"labelOverlap":false,"labelFlush":false}},"y":{"field":"y","type":"quantitative","title":null,"scale":{"domain":[0,1],"nice":false},"axis":{"title":null,"values":[0,0.2,0.4,0.6,0.8,1],"tickCount":10,"format":".1f","grid":true,"gridColor":"#e4e4e4","gridWidth":0.8,"labelFontSize":8,"labelOverlap":false,"labelFlush":false}},"color":{"field":"d","type":"nominal","scale":{"domain":["0ms","200ms"],"range":["#f5a955","#e3262b"]},"legend":{"title":"Adaptation delay"}}}},
    {"data":{"name":"lp"},"transform":[{"filter":"datum.p=='AGP'"}],"mark":{"type":"rule","strokeDash":[2,1.5],"strokeWidth":0.8},"encoding":{"y":{"field":"y","type":"quantitative","title":null},"color":{"field":"d","type":"nominal"}}},
    {"mark":{"type":"rule","strokeWidth":4,"opacity":0.35},"encoding":{"x":{"field":"t","type":"quantitative","title":"Test delay [ms]"},"y":{"datum":0,"type":"quantitative"},"y2":{"datum":0.5},"color":{"field":"d","type":"nominal"}}},
    {"mark":{"type":"rule","strokeWidth":1},"encoding":{"x":{"field":"t","type":"quantitative","title":"Test delay [ms]"},"y":{"datum":0,"type":"quantitative"},"y2":{"datum":0.5},"color":{"field":"d","type":"nominal"}}},
    {"mark":{"type":"rule","strokeWidth":1},"encoding":{"x":{"field":"lo","type":"quantitative","title":"Test delay [ms]"},"x2":{"field":"hi"},"y":{"datum":0.5,"type":"quantitative"},"color":{"field":"d","type":"nominal"}}},
    {"mark":{"type":"tick","orient":"vertical","size":4,"thickness":1},"encoding":{"x":{"field":"lo","type":"quantitative","title":"Test delay [ms]"},"y":{"datum":0.5,"type":"quantitative"},"color":{"field":"d","type":"nominal"}}},
    {"mark":{"type":"tick","orient":"vertical","size":4,"thickness":1},"encoding":{"x":{"field":"hi","type":"quantitative","title":"Test delay [ms]"},"y":{"datum":0.5,"type":"quantitative"},"color":{"field":"d","type":"nominal"}}},
    {"data":{"name":"ca"},"transform":[{"filter":"datum.p=='AGP'"}],"mark":{"type":"line","strokeWidth":1.2,"interpolate":"monotone"},"encoding":{"x":{"field":"x","type":"quantitative","title":"Test delay [ms]"},"y":{"field":"y","type":"quantitative","title":null},"color":{"field":"d","type":"nominal"}}}
   ]}
 ]},
 {"spacing":11,
  "resolve":{"scale":{"x":"independent","y":"independent","color":"independent","xOffset":"independent"},"legend":{"color":"independent"}},
  "hconcat":[
 {"title":{"text":"SSD","fontSize":13.5,"offset":12,"dx":6},"spacing":5,
  "resolve":{"scale":{"x":"independent","y":"independent","color":"independent"},"legend":{"color":"independent"}},
  "hconcat":[
  {"width":103,"height":81,"title":{"text":"Active","fontSize":13,"offset":3,"frame":"group"},
   "data":{"name":"th"},"transform":[{"filter":"datum.p=='SSA'"}],
   "layer":[
    {"data":{"name":"pa"},"transform":[{"filter":"datum.p=='SSA'"}],"mark":{"type":"square","size":9,"opacity":1},"encoding":{"x":{"field":"x","type":"quantitative","title":"Test delay [ms]","scale":{"domain":[-18,430],"nice":false,"zero":false},"axis":{"values":[0,83,167,250,333,417],"tickCount":10,"labelFontSize":8,"titleFontSize":10.5,"labelOverlap":false,"labelFlush":false}},"y":{"field":"y","type":"quantitative","title":null,"scale":{"domain":[0,1],"nice":false},"axis":{"title":null,"values":[0,0.2,0.4,0.6,0.8,1],"tickCount":10,"format":".1f","grid":true,"gridColor":"#e4e4e4","gridWidth":0.8,"labelFontSize":8,"labelOverlap":false,"labelFlush":false}},"color":{"field":"d","type":"nominal","scale":{"domain":["0ms","200ms"],"range":["#f5a955","#e3262b"]},"legend":{"title":"Adaptation delay"}}}},
    {"data":{"name":"lp"},"transform":[{"filter":"datum.p=='SSA'"}],"mark":{"type":"rule","strokeDash":[2,1.5],"strokeWidth":0.8},"encoding":{"y":{"field":"y","type":"quantitative","title":null},"color":{"field":"d","type":"nominal"}}},
    {"mark":{"type":"rule","strokeWidth":4,"opacity":0.35},"encoding":{"x":{"field":"t","type":"quantitative","title":"Test delay [ms]"},"y":{"datum":0,"type":"quantitative"},"y2":{"datum":0.5},"color":{"field":"d","type":"nominal"}}},
    {"mark":{"type":"rule","strokeWidth":1},"encoding":{"x":{"field":"t","type":"quantitative","title":"Test delay [ms]"},"y":{"datum":0,"type":"quantitative"},"y2":{"datum":0.5},"color":{"field":"d","type":"nominal"}}},
    {"mark":{"type":"rule","strokeWidth":1},"encoding":{"x":{"field":"lo","type":"quantitative","title":"Test delay [ms]"},"x2":{"field":"hi"},"y":{"datum":0.5,"type":"quantitative"},"color":{"field":"d","type":"nominal"}}},
    {"mark":{"type":"tick","orient":"vertical","size":4,"thickness":1},"encoding":{"x":{"field":"lo","type":"quantitative","title":"Test delay [ms]"},"y":{"datum":0.5,"type":"quantitative"},"color":{"field":"d","type":"nominal"}}},
    {"mark":{"type":"tick","orient":"vertical","size":4,"thickness":1},"encoding":{"x":{"field":"hi","type":"quantitative","title":"Test delay [ms]"},"y":{"datum":0.5,"type":"quantitative"},"color":{"field":"d","type":"nominal"}}},
    {"data":{"name":"ca"},"transform":[{"filter":"datum.p=='SSA'"}],"mark":{"type":"line","strokeWidth":1.2,"interpolate":"monotone"},"encoding":{"x":{"field":"x","type":"quantitative","title":"Test delay [ms]"},"y":{"field":"y","type":"quantitative","title":null},"color":{"field":"d","type":"nominal"}}}
   ]},
  {"width":103,"height":81,"title":{"text":"Passive","fontSize":13,"offset":3,"frame":"group"},
   "data":{"name":"th"},"transform":[{"filter":"datum.p=='SSP'"}],
   "layer":[
    {"data":{"name":"pa"},"transform":[{"filter":"datum.p=='SSP'"}],"mark":{"type":"square","size":9,"opacity":1},"encoding":{"x":{"field":"x","type":"quantitative","title":"Test delay [ms]","scale":{"domain":[-18,430],"nice":false,"zero":false},"axis":{"values":[0,83,167,250,333,417],"tickCount":10,"labelFontSize":8,"titleFontSize":10.5,"labelOverlap":false,"labelFlush":false}},"y":{"field":"y","type":"quantitative","title":null,"scale":{"domain":[0,1],"nice":false},"axis":{"title":null,"values":[0,0.2,0.4,0.6,0.8,1],"tickCount":10,"format":".1f","grid":true,"gridColor":"#e4e4e4","gridWidth":0.8,"labelFontSize":8,"labelOverlap":false,"labelFlush":false}},"color":{"field":"d","type":"nominal","scale":{"domain":["0ms","200ms"],"range":["#f5a955","#e3262b"]},"legend":{"title":"Adaptation delay"}}}},
    {"data":{"name":"lp"},"transform":[{"filter":"datum.p=='SSP'"}],"mark":{"type":"rule","strokeDash":[2,1.5],"strokeWidth":0.8},"encoding":{"y":{"field":"y","type":"quantitative","title":null},"color":{"field":"d","type":"nominal"}}},
    {"mark":{"type":"rule","strokeWidth":4,"opacity":0.35},"encoding":{"x":{"field":"t","type":"quantitative","title":"Test delay [ms]"},"y":{"datum":0,"type":"quantitative"},"y2":{"datum":0.5},"color":{"field":"d","type":"nominal"}}},
    {"mark":{"type":"rule","strokeWidth":1},"encoding":{"x":{"field":"t","type":"quantitative","title":"Test delay [ms]"},"y":{"datum":0,"type":"quantitative"},"y2":{"datum":0.5},"color":{"field":"d","type":"nominal"}}},
    {"mark":{"type":"rule","strokeWidth":1},"encoding":{"x":{"field":"lo","type":"quantitative","title":"Test delay [ms]"},"x2":{"field":"hi"},"y":{"datum":0.5,"type":"quantitative"},"color":{"field":"d","type":"nominal"}}},
    {"mark":{"type":"tick","orient":"vertical","size":4,"thickness":1},"encoding":{"x":{"field":"lo","type":"quantitative","title":"Test delay [ms]"},"y":{"datum":0.5,"type":"quantitative"},"color":{"field":"d","type":"nominal"}}},
    {"mark":{"type":"tick","orient":"vertical","size":4,"thickness":1},"encoding":{"x":{"field":"hi","type":"quantitative","title":"Test delay [ms]"},"y":{"datum":0.5,"type":"quantitative"},"color":{"field":"d","type":"nominal"}}},
    {"data":{"name":"ca"},"transform":[{"filter":"datum.p=='SSP'"}],"mark":{"type":"line","strokeWidth":1.2,"interpolate":"monotone"},"encoding":{"x":{"field":"x","type":"quantitative","title":"Test delay [ms]"},"y":{"field":"y","type":"quantitative","title":null},"color":{"field":"d","type":"nominal"}}}
   ]}
 ]},
 {"title":{"text":"HC","fontSize":13.5,"offset":12,"dx":2},"spacing":5,
  "resolve":{"scale":{"x":"independent","y":"independent","color":"independent"},"legend":{"color":"independent"}},
  "hconcat":[
  {"width":103,"height":81,"title":{"text":"Active","fontSize":13,"offset":3,"frame":"group"},
   "data":{"name":"th"},"transform":[{"filter":"datum.p=='HCA'"}],
   "layer":[
    {"data":{"name":"pa"},"transform":[{"filter":"datum.p=='HCA'"}],"mark":{"type":"square","size":9,"opacity":1},"encoding":{"x":{"field":"x","type":"quantitative","title":"Test delay [ms]","scale":{"domain":[-18,430],"nice":false,"zero":false},"axis":{"values":[0,83,167,250,333,417],"tickCount":10,"labelFontSize":8,"titleFontSize":10.5,"labelOverlap":false,"labelFlush":false}},"y":{"field":"y","type":"quantitative","title":null,"scale":{"domain":[0,1],"nice":false},"axis":{"title":null,"values":[0,0.2,0.4,0.6,0.8,1],"tickCount":10,"format":".1f","grid":true,"gridColor":"#e4e4e4","gridWidth":0.8,"labelFontSize":8,"labelOverlap":false,"labelFlush":false}},"color":{"field":"d","type":"nominal","scale":{"domain":["0ms","200ms"],"range":["#f5a955","#e3262b"]},"legend":{"title":"Adaptation delay"}}}},
    {"data":{"name":"lp"},"transform":[{"filter":"datum.p=='HCA'"}],"mark":{"type":"rule","strokeDash":[2,1.5],"strokeWidth":0.8},"encoding":{"y":{"field":"y","type":"quantitative","title":null},"color":{"field":"d","type":"nominal"}}},
    {"mark":{"type":"rule","strokeWidth":4,"opacity":0.35},"encoding":{"x":{"field":"t","type":"quantitative","title":"Test delay [ms]"},"y":{"datum":0,"type":"quantitative"},"y2":{"datum":0.5},"color":{"field":"d","type":"nominal"}}},
    {"mark":{"type":"rule","strokeWidth":1},"encoding":{"x":{"field":"t","type":"quantitative","title":"Test delay [ms]"},"y":{"datum":0,"type":"quantitative"},"y2":{"datum":0.5},"color":{"field":"d","type":"nominal"}}},
    {"mark":{"type":"rule","strokeWidth":1},"encoding":{"x":{"field":"lo","type":"quantitative","title":"Test delay [ms]"},"x2":{"field":"hi"},"y":{"datum":0.5,"type":"quantitative"},"color":{"field":"d","type":"nominal"}}},
    {"mark":{"type":"tick","orient":"vertical","size":4,"thickness":1},"encoding":{"x":{"field":"lo","type":"quantitative","title":"Test delay [ms]"},"y":{"datum":0.5,"type":"quantitative"},"color":{"field":"d","type":"nominal"}}},
    {"mark":{"type":"tick","orient":"vertical","size":4,"thickness":1},"encoding":{"x":{"field":"hi","type":"quantitative","title":"Test delay [ms]"},"y":{"datum":0.5,"type":"quantitative"},"color":{"field":"d","type":"nominal"}}},
    {"data":{"name":"ca"},"transform":[{"filter":"datum.p=='HCA'"}],"mark":{"type":"line","strokeWidth":1.2,"interpolate":"monotone"},"encoding":{"x":{"field":"x","type":"quantitative","title":"Test delay [ms]"},"y":{"field":"y","type":"quantitative","title":null},"color":{"field":"d","type":"nominal"}}}
   ]},
  {"width":103,"height":81,"title":{"text":"Passive","fontSize":13,"offset":3,"frame":"group"},
   "data":{"name":"th"},"transform":[{"filter":"datum.p=='HCP'"}],
   "layer":[
    {"data":{"name":"pa"},"transform":[{"filter":"datum.p=='HCP'"}],"mark":{"type":"square","size":9,"opacity":1},"encoding":{"x":{"field":"x","type":"quantitative","title":"Test delay [ms]","scale":{"domain":[-18,430],"nice":false,"zero":false},"axis":{"values":[0,83,167,250,333,417],"tickCount":10,"labelFontSize":8,"titleFontSize":10.5,"labelOverlap":false,"labelFlush":false}},"y":{"field":"y","type":"quantitative","title":null,"scale":{"domain":[0,1],"nice":false},"axis":{"title":null,"values":[0,0.2,0.4,0.6,0.8,1],"tickCount":10,"format":".1f","grid":true,"gridColor":"#e4e4e4","gridWidth":0.8,"labelFontSize":8,"labelOverlap":false,"labelFlush":false}},"color":{"field":"d","type":"nominal","scale":{"domain":["0ms","200ms"],"range":["#f5a955","#e3262b"]},"legend":{"title":"Adaptation delay"}}}},
    {"data":{"name":"lp"},"transform":[{"filter":"datum.p=='HCP'"}],"mark":{"type":"rule","strokeDash":[2,1.5],"strokeWidth":0.8},"encoding":{"y":{"field":"y","type":"quantitative","title":null},"color":{"field":"d","type":"nominal"}}},
    {"mark":{"type":"rule","strokeWidth":4,"opacity":0.35},"encoding":{"x":{"field":"t","type":"quantitative","title":"Test delay [ms]"},"y":{"datum":0,"type":"quantitative"},"y2":{"datum":0.5},"color":{"field":"d","type":"nominal"}}},
    {"mark":{"type":"rule","strokeWidth":1},"encoding":{"x":{"field":"t","type":"quantitative","title":"Test delay [ms]"},"y":{"datum":0,"type":"quantitative"},"y2":{"datum":0.5},"color":{"field":"d","type":"nominal"}}},
    {"mark":{"type":"rule","strokeWidth":1},"encoding":{"x":{"field":"lo","type":"quantitative","title":"Test delay [ms]"},"x2":{"field":"hi"},"y":{"datum":0.5,"type":"quantitative"},"color":{"field":"d","type":"nominal"}}},
    {"mark":{"type":"tick","orient":"vertical","size":4,"thickness":1},"encoding":{"x":{"field":"lo","type":"quantitative","title":"Test delay [ms]"},"y":{"datum":0.5,"type":"quantitative"},"color":{"field":"d","type":"nominal"}}},
    {"mark":{"type":"tick","orient":"vertical","size":4,"thickness":1},"encoding":{"x":{"field":"hi","type":"quantitative","title":"Test delay [ms]"},"y":{"datum":0.5,"type":"quantitative"},"color":{"field":"d","type":"nominal"}}},
    {"data":{"name":"ca"},"transform":[{"filter":"datum.p=='HCP'"}],"mark":{"type":"line","strokeWidth":1.2,"interpolate":"monotone"},"encoding":{"x":{"field":"x","type":"quantitative","title":"Test delay [ms]"},"y":{"field":"y","type":"quantitative","title":null},"color":{"field":"d","type":"nominal"}}}
   ]}
 ]}
 ]}
 ]},
{"title":{"text":"B. Summary Measures of Psychometric Functions: Visual (Cross-modal) Trials","anchor":"start","fontSize":17,"dx":-21,"offset":19},
 "spacing":15,
 "resolve":{"scale":{"x":"independent","y":"independent","color":"independent","xOffset":"independent"},"legend":{"color":"independent"}},
 "hconcat":[
 {"title":{"text":"Across Groups","fontSize":13.5,"offset":13,"dx":12},"spacing":0,
  "resolve":{"scale":{"x":"independent","y":"independent","color":"independent","xOffset":"independent"}},
  "hconcat":[
  {"width":56,"height":95,"view":{"stroke":"#b4b4b4"},"data":{"name":"bx"},"transform":[{"filter":"datum.k=='AGT'"}],
   "resolve":{"scale":{"xOffset":"independent","color":"independent"}},
   "layer":[
    {"mark":{"type":"rule","color":"#a8a8a8","strokeWidth":0.8},"encoding":{"x":{"field":"c","type":"nominal","scale":{"domain":["Passive","Active"],"paddingInner":0,"paddingOuter":0},"axis":{"title":null,"labelAngle":0,"labelFontSize":6.5,"tickSize":2,"domain":false,"labelColor":"#222","labelOverlap":false}},"xOffset":{"field":"d","type":"nominal","scale":{"domain":["200ms","0ms"],"paddingInner":0,"paddingOuter":0.3}},"y":{"field":"lo","type":"quantitative","scale":{"domain":[-120,700],"nice":false,"zero":false},"axis":{"title":"Detection Thresholds [ms]","values":[0,140,280,420,560,700],"tickCount":10,"format":"d","domain":false,"labelFontSize":6,"titleFontSize":7,"tickSize":2,"titlePadding":1,"labelOverlap":false,"labelFlush":false}},"y2":{"field":"hi"}}},
    {"mark":{"type":"tick","orient":"horizontal","size":6,"thickness":0.8,"color":"#a8a8a8"},"encoding":{"x":{"field":"c","type":"nominal"},"xOffset":{"field":"d","type":"nominal","scale":{"domain":["200ms","0ms"],"paddingInner":0,"paddingOuter":0.3}},"y":{"field":"hi","type":"quantitative"}}},
    {"mark":{"type":"tick","orient":"horizontal","size":6,"thickness":0.8,"color":"#a8a8a8"},"encoding":{"x":{"field":"c","type":"nominal"},"xOffset":{"field":"d","type":"nominal","scale":{"domain":["200ms","0ms"],"paddingInner":0,"paddingOuter":0.3}},"y":{"field":"lo","type":"quantitative"}}},
    {"mark":{"type":"bar","stroke":"#9a9a9a","strokeWidth":0.7},"encoding":{"x":{"field":"c","type":"nominal"},"xOffset":{"field":"d","type":"nominal","scale":{"domain":["200ms","0ms"],"paddingInner":0,"paddingOuter":0.3}},"y":{"field":"q1","type":"quantitative"},"y2":{"field":"q3"},"color":{"field":"d","type":"nominal","scale":{"domain":["200ms","0ms"],"range":["#c2272d","#d9a467"]},"legend":null}}},
    {"mark":{"type":"tick","orient":"horizontal","size":11,"thickness":1,"color":"#8a6f5f"},"encoding":{"x":{"field":"c","type":"nominal"},"xOffset":{"field":"d","type":"nominal","scale":{"domain":["200ms","0ms"],"paddingInner":0,"paddingOuter":0.3}},"y":{"field":"md","type":"quantitative"}}},
    {"data":{"name":"bp"},"transform":[{"filter":"datum.k=='AGT'"}],"mark":{"type":"circle","size":5,"opacity":0.9},"encoding":{"x":{"field":"c","type":"nominal"},"xOffset":{"field":"s","type":"nominal","scale":{"paddingOuter":7}},"y":{"field":"v","type":"quantitative"},"color":{"field":"d","type":"nominal","scale":{"domain":["200ms","0ms"],"range":["#e4232a","#f7a846"]},"legend":null}}},
    {"data":{"name":"bo"},"transform":[{"filter":"datum.k=='AGT'"}],"mark":{"type":"point","shape":"cross","size":10,"color":"#9a9a9a","filled":true},"encoding":{"x":{"field":"c","type":"nominal"},"xOffset":{"field":"d","type":"nominal","scale":{"domain":["200ms","0ms"],"paddingInner":0,"paddingOuter":0.3}},"y":{"field":"v","type":"quantitative"}}},
    {"data":{"name":"sig"},"mark":{"type":"tick","orient":"horizontal","size":11,"thickness":0.9,"color":"#111"},"encoding":{"x":{"field":"c","type":"nominal"},"y":{"field":"v","type":"quantitative"}}},
    {"data":{"name":"sig"},"mark":{"type":"text","text":"***","fontSize":8,"fontWeight":"bold","dy":-6,"color":"#111"},"encoding":{"x":{"field":"c","type":"nominal"},"y":{"field":"v","type":"quantitative"}}}
   ]},
  {"width":56,"height":95,"view":{"stroke":"#b4b4b4"},"data":{"name":"bx"},"transform":[{"filter":"datum.k=='AGS'"}],
   "resolve":{"scale":{"xOffset":"independent","color":"independent"}},
   "layer":[
    {"mark":{"type":"rule","color":"#a8a8a8","strokeWidth":0.8},"encoding":{"x":{"field":"c","type":"nominal","scale":{"domain":["Passive","Active"],"paddingInner":0,"paddingOuter":0},"axis":{"title":null,"labelAngle":0,"labelFontSize":6.5,"tickSize":2,"domain":false,"labelColor":"#222","labelOverlap":false}},"xOffset":{"field":"d","type":"nominal","scale":{"domain":["200ms","0ms"],"paddingInner":0,"paddingOuter":0.3}},"y":{"field":"lo","type":"quantitative","scale":{"domain":[0,1.3],"nice":false,"zero":false},"axis":{"title":"Slopes (×100)","values":[0,0.26,0.52,0.78,1.04,1.3],"tickCount":10,"format":".2f","domain":false,"labelFontSize":6,"titleFontSize":7,"tickSize":2,"titlePadding":8,"labelOverlap":false,"labelFlush":false}},"y2":{"field":"hi"}}},
    {"mark":{"type":"tick","orient":"horizontal","size":6,"thickness":0.8,"color":"#a8a8a8"},"encoding":{"x":{"field":"c","type":"nominal"},"xOffset":{"field":"d","type":"nominal","scale":{"domain":["200ms","0ms"],"paddingInner":0,"paddingOuter":0.3}},"y":{"field":"hi","type":"quantitative"}}},
    {"mark":{"type":"tick","orient":"horizontal","size":6,"thickness":0.8,"color":"#a8a8a8"},"encoding":{"x":{"field":"c","type":"nominal"},"xOffset":{"field":"d","type":"nominal","scale":{"domain":["200ms","0ms"],"paddingInner":0,"paddingOuter":0.3}},"y":{"field":"lo","type":"quantitative"}}},
    {"mark":{"type":"bar","stroke":"#9a9a9a","strokeWidth":0.7},"encoding":{"x":{"field":"c","type":"nominal"},"xOffset":{"field":"d","type":"nominal","scale":{"domain":["200ms","0ms"],"paddingInner":0,"paddingOuter":0.3}},"y":{"field":"q1","type":"quantitative"},"y2":{"field":"q3"},"color":{"field":"d","type":"nominal","scale":{"domain":["200ms","0ms"],"range":["#c2272d","#d9a467"]},"legend":null}}},
    {"mark":{"type":"tick","orient":"horizontal","size":11,"thickness":1,"color":"#8a6f5f"},"encoding":{"x":{"field":"c","type":"nominal"},"xOffset":{"field":"d","type":"nominal","scale":{"domain":["200ms","0ms"],"paddingInner":0,"paddingOuter":0.3}},"y":{"field":"md","type":"quantitative"}}},
    {"data":{"name":"bp"},"transform":[{"filter":"datum.k=='AGS'"}],"mark":{"type":"circle","size":5,"opacity":0.9},"encoding":{"x":{"field":"c","type":"nominal"},"xOffset":{"field":"s","type":"nominal","scale":{"paddingOuter":7}},"y":{"field":"v","type":"quantitative"},"color":{"field":"d","type":"nominal","scale":{"domain":["200ms","0ms"],"range":["#e4232a","#f7a846"]},"legend":null}}},
    {"data":{"name":"bo"},"transform":[{"filter":"datum.k=='AGS'"}],"mark":{"type":"point","shape":"cross","size":10,"color":"#9a9a9a","filled":true},"encoding":{"x":{"field":"c","type":"nominal"},"xOffset":{"field":"d","type":"nominal","scale":{"domain":["200ms","0ms"],"paddingInner":0,"paddingOuter":0.3}},"y":{"field":"v","type":"quantitative"}}}
   ]},
  {"width":56,"height":95,"view":{"stroke":"#b4b4b4"},"data":{"name":"bx"},"transform":[{"filter":"datum.k=='AGW'"}],
   "resolve":{"scale":{"xOffset":"independent","color":"independent"}},
   "layer":[
    {"mark":{"type":"rule","color":"#a8a8a8","strokeWidth":0.8},"encoding":{"x":{"field":"c","type":"nominal","scale":{"domain":["Passive","Active"],"paddingInner":0,"paddingOuter":0},"axis":{"title":null,"labelAngle":0,"labelFontSize":6.5,"tickSize":2,"domain":false,"labelColor":"#222","labelOverlap":false}},"xOffset":{"field":"d","type":"nominal","scale":{"domain":["200ms","0ms"],"paddingInner":0,"paddingOuter":0.3}},"y":{"field":"lo","type":"quantitative","scale":{"domain":[0,1100],"nice":false,"zero":false},"axis":{"title":"Widths [ms]","values":[0,220,440,660,880,1100],"tickCount":10,"format":"d","domain":false,"labelFontSize":6,"titleFontSize":7,"tickSize":2,"titlePadding":0,"labelOverlap":false,"labelFlush":false}},"y2":{"field":"hi"}}},
    {"mark":{"type":"tick","orient":"horizontal","size":6,"thickness":0.8,"color":"#a8a8a8"},"encoding":{"x":{"field":"c","type":"nominal"},"xOffset":{"field":"d","type":"nominal","scale":{"domain":["200ms","0ms"],"paddingInner":0,"paddingOuter":0.3}},"y":{"field":"hi","type":"quantitative"}}},
    {"mark":{"type":"tick","orient":"horizontal","size":6,"thickness":0.8,"color":"#a8a8a8"},"encoding":{"x":{"field":"c","type":"nominal"},"xOffset":{"field":"d","type":"nominal","scale":{"domain":["200ms","0ms"],"paddingInner":0,"paddingOuter":0.3}},"y":{"field":"lo","type":"quantitative"}}},
    {"mark":{"type":"bar","stroke":"#9a9a9a","strokeWidth":0.7},"encoding":{"x":{"field":"c","type":"nominal"},"xOffset":{"field":"d","type":"nominal","scale":{"domain":["200ms","0ms"],"paddingInner":0,"paddingOuter":0.3}},"y":{"field":"q1","type":"quantitative"},"y2":{"field":"q3"},"color":{"field":"d","type":"nominal","scale":{"domain":["200ms","0ms"],"range":["#c2272d","#d9a467"]},"legend":null}}},
    {"mark":{"type":"tick","orient":"horizontal","size":11,"thickness":1,"color":"#8a6f5f"},"encoding":{"x":{"field":"c","type":"nominal"},"xOffset":{"field":"d","type":"nominal","scale":{"domain":["200ms","0ms"],"paddingInner":0,"paddingOuter":0.3}},"y":{"field":"md","type":"quantitative"}}},
    {"data":{"name":"bp"},"transform":[{"filter":"datum.k=='AGW'"}],"mark":{"type":"circle","size":5,"opacity":0.9},"encoding":{"x":{"field":"c","type":"nominal"},"xOffset":{"field":"s","type":"nominal","scale":{"paddingOuter":7}},"y":{"field":"v","type":"quantitative"},"color":{"field":"d","type":"nominal","scale":{"domain":["200ms","0ms"],"range":["#e4232a","#f7a846"]},"legend":null}}},
    {"data":{"name":"bo"},"transform":[{"filter":"datum.k=='AGW'"}],"mark":{"type":"point","shape":"cross","size":10,"color":"#9a9a9a","filled":true},"encoding":{"x":{"field":"c","type":"nominal"},"xOffset":{"field":"d","type":"nominal","scale":{"domain":["200ms","0ms"],"paddingInner":0,"paddingOuter":0.3}},"y":{"field":"v","type":"quantitative"}}}
   ]}
 ]},
 {"title":{"text":"SSD","fontSize":13.5,"offset":13,"dx":6},"spacing":0,
  "resolve":{"scale":{"x":"independent","y":"independent","color":"independent","xOffset":"independent"}},
  "hconcat":[
  {"width":56,"height":95,"view":{"stroke":"#b4b4b4"},"data":{"name":"bx"},"transform":[{"filter":"datum.k=='SST'"}],
   "resolve":{"scale":{"xOffset":"independent","color":"independent"}},
   "layer":[
    {"mark":{"type":"rule","color":"#a8a8a8","strokeWidth":0.8},"encoding":{"x":{"field":"c","type":"nominal","scale":{"domain":["Passive","Active"],"paddingInner":0,"paddingOuter":0},"axis":{"title":null,"labelAngle":0,"labelFontSize":6.5,"tickSize":2,"domain":false,"labelColor":"#222","labelOverlap":false}},"xOffset":{"field":"d","type":"nominal","scale":{"domain":["200ms","0ms"],"paddingInner":0,"paddingOuter":0.3}},"y":{"field":"lo","type":"quantitative","scale":{"domain":[-120,700],"nice":false,"zero":false},"axis":{"title":"Detection Thresholds [ms]","values":[0,140,280,420,560,700],"tickCount":10,"format":"d","domain":false,"labelFontSize":6,"titleFontSize":7,"tickSize":2,"titlePadding":1,"labelOverlap":false,"labelFlush":false}},"y2":{"field":"hi"}}},
    {"mark":{"type":"tick","orient":"horizontal","size":6,"thickness":0.8,"color":"#a8a8a8"},"encoding":{"x":{"field":"c","type":"nominal"},"xOffset":{"field":"d","type":"nominal","scale":{"domain":["200ms","0ms"],"paddingInner":0,"paddingOuter":0.3}},"y":{"field":"hi","type":"quantitative"}}},
    {"mark":{"type":"tick","orient":"horizontal","size":6,"thickness":0.8,"color":"#a8a8a8"},"encoding":{"x":{"field":"c","type":"nominal"},"xOffset":{"field":"d","type":"nominal","scale":{"domain":["200ms","0ms"],"paddingInner":0,"paddingOuter":0.3}},"y":{"field":"lo","type":"quantitative"}}},
    {"mark":{"type":"bar","stroke":"#9a9a9a","strokeWidth":0.7},"encoding":{"x":{"field":"c","type":"nominal"},"xOffset":{"field":"d","type":"nominal","scale":{"domain":["200ms","0ms"],"paddingInner":0,"paddingOuter":0.3}},"y":{"field":"q1","type":"quantitative"},"y2":{"field":"q3"},"color":{"field":"d","type":"nominal","scale":{"domain":["200ms","0ms"],"range":["#c2272d","#d9a467"]},"legend":null}}},
    {"mark":{"type":"tick","orient":"horizontal","size":11,"thickness":1,"color":"#8a6f5f"},"encoding":{"x":{"field":"c","type":"nominal"},"xOffset":{"field":"d","type":"nominal","scale":{"domain":["200ms","0ms"],"paddingInner":0,"paddingOuter":0.3}},"y":{"field":"md","type":"quantitative"}}},
    {"data":{"name":"bp"},"transform":[{"filter":"datum.k=='SST'"}],"mark":{"type":"circle","size":5,"opacity":0.9},"encoding":{"x":{"field":"c","type":"nominal"},"xOffset":{"field":"s","type":"nominal","scale":{"paddingOuter":6}},"y":{"field":"v","type":"quantitative"},"color":{"field":"d","type":"nominal","scale":{"domain":["200ms","0ms"],"range":["#e4232a","#f7a846"]},"legend":null}}},
    {"data":{"name":"bo"},"transform":[{"filter":"datum.k=='SST'"}],"mark":{"type":"point","shape":"cross","size":10,"color":"#9a9a9a","filled":true},"encoding":{"x":{"field":"c","type":"nominal"},"xOffset":{"field":"d","type":"nominal","scale":{"domain":["200ms","0ms"],"paddingInner":0,"paddingOuter":0.3}},"y":{"field":"v","type":"quantitative"}}}
   ]},
  {"width":56,"height":95,"view":{"stroke":"#b4b4b4"},"data":{"name":"bx"},"transform":[{"filter":"datum.k=='SSS'"}],
   "resolve":{"scale":{"xOffset":"independent","color":"independent"}},
   "layer":[
    {"mark":{"type":"rule","color":"#a8a8a8","strokeWidth":0.8},"encoding":{"x":{"field":"c","type":"nominal","scale":{"domain":["Passive","Active"],"paddingInner":0,"paddingOuter":0},"axis":{"title":null,"labelAngle":0,"labelFontSize":6.5,"tickSize":2,"domain":false,"labelColor":"#222","labelOverlap":false}},"xOffset":{"field":"d","type":"nominal","scale":{"domain":["200ms","0ms"],"paddingInner":0,"paddingOuter":0.3}},"y":{"field":"lo","type":"quantitative","scale":{"domain":[0,1.3],"nice":false,"zero":false},"axis":{"title":"Slopes (×100)","values":[0,0.26,0.52,0.78,1.04,1.3],"tickCount":10,"format":".2f","domain":false,"labelFontSize":6,"titleFontSize":7,"tickSize":2,"titlePadding":8,"labelOverlap":false,"labelFlush":false}},"y2":{"field":"hi"}}},
    {"mark":{"type":"tick","orient":"horizontal","size":6,"thickness":0.8,"color":"#a8a8a8"},"encoding":{"x":{"field":"c","type":"nominal"},"xOffset":{"field":"d","type":"nominal","scale":{"domain":["200ms","0ms"],"paddingInner":0,"paddingOuter":0.3}},"y":{"field":"hi","type":"quantitative"}}},
    {"mark":{"type":"tick","orient":"horizontal","size":6,"thickness":0.8,"color":"#a8a8a8"},"encoding":{"x":{"field":"c","type":"nominal"},"xOffset":{"field":"d","type":"nominal","scale":{"domain":["200ms","0ms"],"paddingInner":0,"paddingOuter":0.3}},"y":{"field":"lo","type":"quantitative"}}},
    {"mark":{"type":"bar","stroke":"#9a9a9a","strokeWidth":0.7},"encoding":{"x":{"field":"c","type":"nominal"},"xOffset":{"field":"d","type":"nominal","scale":{"domain":["200ms","0ms"],"paddingInner":0,"paddingOuter":0.3}},"y":{"field":"q1","type":"quantitative"},"y2":{"field":"q3"},"color":{"field":"d","type":"nominal","scale":{"domain":["200ms","0ms"],"range":["#c2272d","#d9a467"]},"legend":null}}},
    {"mark":{"type":"tick","orient":"horizontal","size":11,"thickness":1,"color":"#8a6f5f"},"encoding":{"x":{"field":"c","type":"nominal"},"xOffset":{"field":"d","type":"nominal","scale":{"domain":["200ms","0ms"],"paddingInner":0,"paddingOuter":0.3}},"y":{"field":"md","type":"quantitative"}}},
    {"data":{"name":"bp"},"transform":[{"filter":"datum.k=='SSS'"}],"mark":{"type":"circle","size":5,"opacity":0.9},"encoding":{"x":{"field":"c","type":"nominal"},"xOffset":{"field":"s","type":"nominal","scale":{"paddingOuter":6}},"y":{"field":"v","type":"quantitative"},"color":{"field":"d","type":"nominal","scale":{"domain":["200ms","0ms"],"range":["#e4232a","#f7a846"]},"legend":null}}},
    {"data":{"name":"bo"},"transform":[{"filter":"datum.k=='SSS'"}],"mark":{"type":"point","shape":"cross","size":10,"color":"#9a9a9a","filled":true},"encoding":{"x":{"field":"c","type":"nominal"},"xOffset":{"field":"d","type":"nominal","scale":{"domain":["200ms","0ms"],"paddingInner":0,"paddingOuter":0.3}},"y":{"field":"v","type":"quantitative"}}}
   ]},
  {"width":56,"height":95,"view":{"stroke":"#b4b4b4"},"data":{"name":"bx"},"transform":[{"filter":"datum.k=='SSW'"}],
   "resolve":{"scale":{"xOffset":"independent","color":"independent"}},
   "layer":[
    {"mark":{"type":"rule","color":"#a8a8a8","strokeWidth":0.8},"encoding":{"x":{"field":"c","type":"nominal","scale":{"domain":["Passive","Active"],"paddingInner":0,"paddingOuter":0},"axis":{"title":null,"labelAngle":0,"labelFontSize":6.5,"tickSize":2,"domain":false,"labelColor":"#222","labelOverlap":false}},"xOffset":{"field":"d","type":"nominal","scale":{"domain":["200ms","0ms"],"paddingInner":0,"paddingOuter":0.3}},"y":{"field":"lo","type":"quantitative","scale":{"domain":[0,1100],"nice":false,"zero":false},"axis":{"title":"Widths [ms]","values":[0,220,440,660,880,1100],"tickCount":10,"format":"d","domain":false,"labelFontSize":6,"titleFontSize":7,"tickSize":2,"titlePadding":0,"labelOverlap":false,"labelFlush":false}},"y2":{"field":"hi"}}},
    {"mark":{"type":"tick","orient":"horizontal","size":6,"thickness":0.8,"color":"#a8a8a8"},"encoding":{"x":{"field":"c","type":"nominal"},"xOffset":{"field":"d","type":"nominal","scale":{"domain":["200ms","0ms"],"paddingInner":0,"paddingOuter":0.3}},"y":{"field":"hi","type":"quantitative"}}},
    {"mark":{"type":"tick","orient":"horizontal","size":6,"thickness":0.8,"color":"#a8a8a8"},"encoding":{"x":{"field":"c","type":"nominal"},"xOffset":{"field":"d","type":"nominal","scale":{"domain":["200ms","0ms"],"paddingInner":0,"paddingOuter":0.3}},"y":{"field":"lo","type":"quantitative"}}},
    {"mark":{"type":"bar","stroke":"#9a9a9a","strokeWidth":0.7},"encoding":{"x":{"field":"c","type":"nominal"},"xOffset":{"field":"d","type":"nominal","scale":{"domain":["200ms","0ms"],"paddingInner":0,"paddingOuter":0.3}},"y":{"field":"q1","type":"quantitative"},"y2":{"field":"q3"},"color":{"field":"d","type":"nominal","scale":{"domain":["200ms","0ms"],"range":["#c2272d","#d9a467"]},"legend":null}}},
    {"mark":{"type":"tick","orient":"horizontal","size":11,"thickness":1,"color":"#8a6f5f"},"encoding":{"x":{"field":"c","type":"nominal"},"xOffset":{"field":"d","type":"nominal","scale":{"domain":["200ms","0ms"],"paddingInner":0,"paddingOuter":0.3}},"y":{"field":"md","type":"quantitative"}}},
    {"data":{"name":"bp"},"transform":[{"filter":"datum.k=='SSW'"}],"mark":{"type":"circle","size":5,"opacity":0.9},"encoding":{"x":{"field":"c","type":"nominal"},"xOffset":{"field":"s","type":"nominal","scale":{"paddingOuter":6}},"y":{"field":"v","type":"quantitative"},"color":{"field":"d","type":"nominal","scale":{"domain":["200ms","0ms"],"range":["#e4232a","#f7a846"]},"legend":null}}},
    {"data":{"name":"bo"},"transform":[{"filter":"datum.k=='SSW'"}],"mark":{"type":"point","shape":"cross","size":10,"color":"#9a9a9a","filled":true},"encoding":{"x":{"field":"c","type":"nominal"},"xOffset":{"field":"d","type":"nominal","scale":{"domain":["200ms","0ms"],"paddingInner":0,"paddingOuter":0.3}},"y":{"field":"v","type":"quantitative"}}}
   ]}
 ]},
 {"title":{"text":"HC","fontSize":13.5,"offset":13,"dx":9},"spacing":0,
  "resolve":{"scale":{"x":"independent","y":"independent","color":"independent","xOffset":"independent"}},
  "hconcat":[
  {"width":56,"height":95,"view":{"stroke":"#b4b4b4"},"data":{"name":"bx"},"transform":[{"filter":"datum.k=='HCT'"}],
   "resolve":{"scale":{"xOffset":"independent","color":"independent"}},
   "layer":[
    {"mark":{"type":"rule","color":"#a8a8a8","strokeWidth":0.8},"encoding":{"x":{"field":"c","type":"nominal","scale":{"domain":["Passive","Active"],"paddingInner":0,"paddingOuter":0},"axis":{"title":null,"labelAngle":0,"labelFontSize":6.5,"tickSize":2,"domain":false,"labelColor":"#222","labelOverlap":false}},"xOffset":{"field":"d","type":"nominal","scale":{"domain":["200ms","0ms"],"paddingInner":0,"paddingOuter":0.3}},"y":{"field":"lo","type":"quantitative","scale":{"domain":[0,700],"nice":false,"zero":false},"axis":{"title":"Detection Thresholds [ms]","values":[0,140,280,420,560,700],"tickCount":10,"format":"d","domain":false,"labelFontSize":6,"titleFontSize":7,"tickSize":2,"titlePadding":1,"labelOverlap":false,"labelFlush":false}},"y2":{"field":"hi"}}},
    {"mark":{"type":"tick","orient":"horizontal","size":6,"thickness":0.8,"color":"#a8a8a8"},"encoding":{"x":{"field":"c","type":"nominal"},"xOffset":{"field":"d","type":"nominal","scale":{"domain":["200ms","0ms"],"paddingInner":0,"paddingOuter":0.3}},"y":{"field":"hi","type":"quantitative"}}},
    {"mark":{"type":"tick","orient":"horizontal","size":6,"thickness":0.8,"color":"#a8a8a8"},"encoding":{"x":{"field":"c","type":"nominal"},"xOffset":{"field":"d","type":"nominal","scale":{"domain":["200ms","0ms"],"paddingInner":0,"paddingOuter":0.3}},"y":{"field":"lo","type":"quantitative"}}},
    {"mark":{"type":"bar","stroke":"#9a9a9a","strokeWidth":0.7},"encoding":{"x":{"field":"c","type":"nominal"},"xOffset":{"field":"d","type":"nominal","scale":{"domain":["200ms","0ms"],"paddingInner":0,"paddingOuter":0.3}},"y":{"field":"q1","type":"quantitative"},"y2":{"field":"q3"},"color":{"field":"d","type":"nominal","scale":{"domain":["200ms","0ms"],"range":["#c2272d","#d9a467"]},"legend":null}}},
    {"mark":{"type":"tick","orient":"horizontal","size":11,"thickness":1,"color":"#8a6f5f"},"encoding":{"x":{"field":"c","type":"nominal"},"xOffset":{"field":"d","type":"nominal","scale":{"domain":["200ms","0ms"],"paddingInner":0,"paddingOuter":0.3}},"y":{"field":"md","type":"quantitative"}}},
    {"data":{"name":"bp"},"transform":[{"filter":"datum.k=='HCT'"}],"mark":{"type":"circle","size":5,"opacity":0.9},"encoding":{"x":{"field":"c","type":"nominal"},"xOffset":{"field":"s","type":"nominal","scale":{"paddingOuter":6}},"y":{"field":"v","type":"quantitative"},"color":{"field":"d","type":"nominal","scale":{"domain":["200ms","0ms"],"range":["#e4232a","#f7a846"]},"legend":null}}},
    {"data":{"name":"bo"},"transform":[{"filter":"datum.k=='HCT'"}],"mark":{"type":"point","shape":"cross","size":10,"color":"#9a9a9a","filled":true},"encoding":{"x":{"field":"c","type":"nominal"},"xOffset":{"field":"d","type":"nominal","scale":{"domain":["200ms","0ms"],"paddingInner":0,"paddingOuter":0.3}},"y":{"field":"v","type":"quantitative"}}}
   ]},
  {"width":56,"height":95,"view":{"stroke":"#b4b4b4"},"data":{"name":"bx"},"transform":[{"filter":"datum.k=='HCS'"}],
   "resolve":{"scale":{"xOffset":"independent","color":"independent"}},
   "layer":[
    {"mark":{"type":"rule","color":"#a8a8a8","strokeWidth":0.8},"encoding":{"x":{"field":"c","type":"nominal","scale":{"domain":["Passive","Active"],"paddingInner":0,"paddingOuter":0},"axis":{"title":null,"labelAngle":0,"labelFontSize":6.5,"tickSize":2,"domain":false,"labelColor":"#222","labelOverlap":false}},"xOffset":{"field":"d","type":"nominal","scale":{"domain":["200ms","0ms"],"paddingInner":0,"paddingOuter":0.3}},"y":{"field":"lo","type":"quantitative","scale":{"domain":[0,1.3],"nice":false,"zero":false},"axis":{"title":"Slopes (×100)","values":[0,0.26,0.52,0.78,1.04,1.3],"tickCount":10,"format":".2f","domain":false,"labelFontSize":6,"titleFontSize":7,"tickSize":2,"titlePadding":8,"labelOverlap":false,"labelFlush":false}},"y2":{"field":"hi"}}},
    {"mark":{"type":"tick","orient":"horizontal","size":6,"thickness":0.8,"color":"#a8a8a8"},"encoding":{"x":{"field":"c","type":"nominal"},"xOffset":{"field":"d","type":"nominal","scale":{"domain":["200ms","0ms"],"paddingInner":0,"paddingOuter":0.3}},"y":{"field":"hi","type":"quantitative"}}},
    {"mark":{"type":"tick","orient":"horizontal","size":6,"thickness":0.8,"color":"#a8a8a8"},"encoding":{"x":{"field":"c","type":"nominal"},"xOffset":{"field":"d","type":"nominal","scale":{"domain":["200ms","0ms"],"paddingInner":0,"paddingOuter":0.3}},"y":{"field":"lo","type":"quantitative"}}},
    {"mark":{"type":"bar","stroke":"#9a9a9a","strokeWidth":0.7},"encoding":{"x":{"field":"c","type":"nominal"},"xOffset":{"field":"d","type":"nominal","scale":{"domain":["200ms","0ms"],"paddingInner":0,"paddingOuter":0.3}},"y":{"field":"q1","type":"quantitative"},"y2":{"field":"q3"},"color":{"field":"d","type":"nominal","scale":{"domain":["200ms","0ms"],"range":["#c2272d","#d9a467"]},"legend":null}}},
    {"mark":{"type":"tick","orient":"horizontal","size":11,"thickness":1,"color":"#8a6f5f"},"encoding":{"x":{"field":"c","type":"nominal"},"xOffset":{"field":"d","type":"nominal","scale":{"domain":["200ms","0ms"],"paddingInner":0,"paddingOuter":0.3}},"y":{"field":"md","type":"quantitative"}}},
    {"data":{"name":"bp"},"transform":[{"filter":"datum.k=='HCS'"}],"mark":{"type":"circle","size":5,"opacity":0.9},"encoding":{"x":{"field":"c","type":"nominal"},"xOffset":{"field":"s","type":"nominal","scale":{"paddingOuter":6}},"y":{"field":"v","type":"quantitative"},"color":{"field":"d","type":"nominal","scale":{"domain":["200ms","0ms"],"range":["#e4232a","#f7a846"]},"legend":null}}},
    {"data":{"name":"bo"},"transform":[{"filter":"datum.k=='HCS'"}],"mark":{"type":"point","shape":"cross","size":10,"color":"#9a9a9a","filled":true},"encoding":{"x":{"field":"c","type":"nominal"},"xOffset":{"field":"d","type":"nominal","scale":{"domain":["200ms","0ms"],"paddingInner":0,"paddingOuter":0.3}},"y":{"field":"v","type":"quantitative"}}}
   ]},
  {"width":56,"height":95,"view":{"stroke":"#b4b4b4"},"data":{"name":"bx"},"transform":[{"filter":"datum.k=='HCW'"}],
   "resolve":{"scale":{"xOffset":"independent","color":"independent"}},
   "layer":[
    {"mark":{"type":"rule","color":"#a8a8a8","strokeWidth":0.8},"encoding":{"x":{"field":"c","type":"nominal","scale":{"domain":["Passive","Active"],"paddingInner":0,"paddingOuter":0},"axis":{"title":null,"labelAngle":0,"labelFontSize":6.5,"tickSize":2,"domain":false,"labelColor":"#222","labelOverlap":false}},"xOffset":{"field":"d","type":"nominal","scale":{"domain":["200ms","0ms"],"paddingInner":0,"paddingOuter":0.3}},"y":{"field":"lo","type":"quantitative","scale":{"domain":[0,1100],"nice":false,"zero":false},"axis":{"title":"Widths [ms]","values":[0,220,440,660,880,1100],"tickCount":10,"format":"d","domain":false,"labelFontSize":6,"titleFontSize":7,"tickSize":2,"titlePadding":0,"labelOverlap":false,"labelFlush":false}},"y2":{"field":"hi"}}},
    {"mark":{"type":"tick","orient":"horizontal","size":6,"thickness":0.8,"color":"#a8a8a8"},"encoding":{"x":{"field":"c","type":"nominal"},"xOffset":{"field":"d","type":"nominal","scale":{"domain":["200ms","0ms"],"paddingInner":0,"paddingOuter":0.3}},"y":{"field":"hi","type":"quantitative"}}},
    {"mark":{"type":"tick","orient":"horizontal","size":6,"thickness":0.8,"color":"#a8a8a8"},"encoding":{"x":{"field":"c","type":"nominal"},"xOffset":{"field":"d","type":"nominal","scale":{"domain":["200ms","0ms"],"paddingInner":0,"paddingOuter":0.3}},"y":{"field":"lo","type":"quantitative"}}},
    {"mark":{"type":"bar","stroke":"#9a9a9a","strokeWidth":0.7},"encoding":{"x":{"field":"c","type":"nominal"},"xOffset":{"field":"d","type":"nominal","scale":{"domain":["200ms","0ms"],"paddingInner":0,"paddingOuter":0.3}},"y":{"field":"q1","type":"quantitative"},"y2":{"field":"q3"},"color":{"field":"d","type":"nominal","scale":{"domain":["200ms","0ms"],"range":["#c2272d","#d9a467"]},"legend":null}}},
    {"mark":{"type":"tick","orient":"horizontal","size":11,"thickness":1,"color":"#8a6f5f"},"encoding":{"x":{"field":"c","type":"nominal"},"xOffset":{"field":"d","type":"nominal","scale":{"domain":["200ms","0ms"],"paddingInner":0,"paddingOuter":0.3}},"y":{"field":"md","type":"quantitative"}}},
    {"data":{"name":"bp"},"transform":[{"filter":"datum.k=='HCW'"}],"mark":{"type":"circle","size":5,"opacity":0.9},"encoding":{"x":{"field":"c","type":"nominal"},"xOffset":{"field":"s","type":"nominal","scale":{"paddingOuter":6}},"y":{"field":"v","type":"quantitative"},"color":{"field":"d","type":"nominal","scale":{"domain":["200ms","0ms"],"range":["#e4232a","#f7a846"]},"legend":null}}},
    {"data":{"name":"bo"},"transform":[{"filter":"datum.k=='HCW'"}],"mark":{"type":"point","shape":"cross","size":10,"color":"#9a9a9a","filled":true},"encoding":{"x":{"field":"c","type":"nominal"},"xOffset":{"field":"d","type":"nominal","scale":{"domain":["200ms","0ms"],"paddingInner":0,"paddingOuter":0.3}},"y":{"field":"v","type":"quantitative"}}}
   ]}
 ]}
 ]}
]
}
